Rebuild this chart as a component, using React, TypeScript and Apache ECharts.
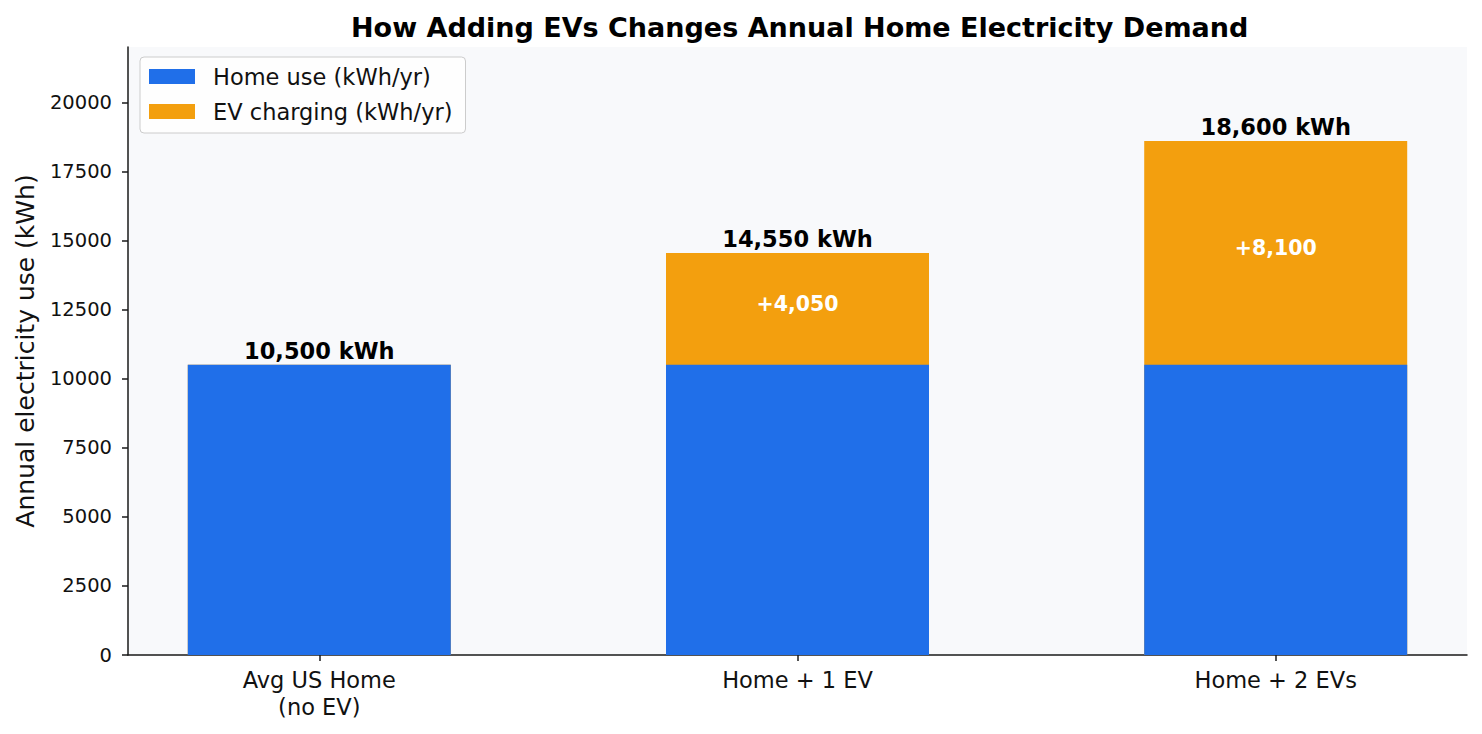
import React, { useEffect, useRef } from "react";
import * as echarts from "echarts";

const categories = ["Avg US Home\n(no EV)", "Home + 1 EV", "Home + 2 EVs"];
const homeUse = [10500, 10500, 10500];
const evCharging = [0, 4050, 8100];
const totals = [10500, 14550, 18600];
const yTicks = [0, 2500, 5000, 7500, 10000, 12500, 15000, 17500, 20000];

const FONT = "DejaVu Sans";
const fmt = (v: number) => v.toLocaleString("en-US");
const AXIS_COLOR = "#1a1a1a";

export default function App() {
  const ref = useRef<HTMLDivElement>(null);
  useEffect(() => {
    document.body.style.margin = "0";
    const chart = echarts.init(ref.current!, null, { renderer: "svg" });
    chart.setOption({
      animation: false,
      textStyle: { fontFamily: FONT },
      title: {
        text: "How Adding EVs Changes Annual Home Electricity Demand",
        left: 346,
        top: 9,
        textStyle: { fontFamily: FONT, fontSize: 27, fontWeight: "bold", color: "#000" },
      },
      legend: {
        left: 140,
        top: 57,
        orient: "vertical",
        icon: "rect",
        itemWidth: 46,
        itemHeight: 15,
        itemGap: 12,
        padding: [8, 13, 10, 9],
        backgroundColor: "rgba(255,255,255,0.8)",
        borderColor: "#cccccc",
        borderWidth: 1,
        borderRadius: 4,
        textStyle: { fontFamily: FONT, fontSize: 22.5, color: "#111", padding: [0, 0, 0, 13] },
        data: ["Home use (kWh/yr)", "EV charging (kWh/yr)"],
      },
      grid: {
        left: 128,
        right: 15,
        top: 47,
        bottom: 79,
        show: true,
        backgroundColor: "#f8f9fb",
        borderWidth: 0,
      },
      xAxis: {
        type: "value",
        min: -0.4,
        max: 2.4,
        axisLine: { show: true, onZero: false, lineStyle: { color: AXIS_COLOR, width: 1.5 } },
        axisTick: { show: true, customValues: [0, 1, 2], length: 6, lineStyle: { color: AXIS_COLOR, width: 1.5 } },
        axisLabel: {
          customValues: [0, 1, 2],
          formatter: (v: number) => categories[Math.round(v)] ?? "",
          fontFamily: FONT,
          fontSize: 22.5,
          color: "#111",
          margin: 11,
          lineHeight: 27,
        },
        splitLine: { show: false },
      },
      yAxis: {
        type: "value",
        min: 0,
        max: 22000,
        interval: 2500,
        name: "Annual electricity use (kWh)",
        nameLocation: "middle",
        nameGap: 90,
        nameTextStyle: { fontFamily: FONT, fontSize: 25, color: "#111" },
        axisLine: { show: true, onZero: false, lineStyle: { color: AXIS_COLOR, width: 1.5 } },
        axisTick: { show: true, customValues: yTicks, length: 6, lineStyle: { color: AXIS_COLOR, width: 1.5 } },
        axisLabel: {
          customValues: yTicks,
          formatter: (v: number) => String(v),
          fontFamily: FONT,
          fontSize: 19.5,
          color: "#111",
          margin: 16,
        },
        splitLine: { show: false },
      },
      series: [
        {
          name: "EV charging (kWh/yr)",
          type: "bar",
          barWidth: 263,
          barGap: "-100%",
          itemStyle: { color: "#f39f0e" },
          data: totals.map((v, i) => [i, v]),
        },
        {
          name: "Home use (kWh/yr)",
          type: "bar",
          barWidth: 263,
          barGap: "-100%",
          itemStyle: { color: "#206fe9" },
          data: homeUse.map((v, i) => [i, v]),
        },
        {
          name: "evLabels",
          type: "scatter",
          symbolSize: 0,
          silent: true,
          itemStyle: { opacity: 1, color: "transparent" },
          label: {
            show: true,
            position: "inside",
            offset: [0, -5],
            fontFamily: FONT,
            fontSize: 20.5,
            fontWeight: "bold",
            color: "#ffffff",
            textBorderWidth: 0,
            textBorderColor: "transparent",
            formatter: (p: any) => (p.value[2] > 0 ? "+" + fmt(p.value[2]) : ""),
          },
          data: evCharging.map((v, i) => [i, homeUse[i] + v / 2, v]),
        },
        {
          name: "totals",
          type: "scatter",
          symbolSize: 0,
          silent: true,
          itemStyle: { opacity: 1, color: "transparent" },
          label: {
            show: true,
            position: "top",
            distance: 2,
            fontFamily: FONT,
            fontSize: 22.5,
            fontWeight: "bold",
            color: "#000000",
            textBorderWidth: 0,
            formatter: (p: any) => fmt(p.value[1]) + " kWh",
          },
          data: totals.map((v, i) => [i, v]),
        },
      ],
    });
    return () => chart.dispose();
  }, []);
  return <div ref={ref} style={{ width: 1482, height: 734 }} />;
}
